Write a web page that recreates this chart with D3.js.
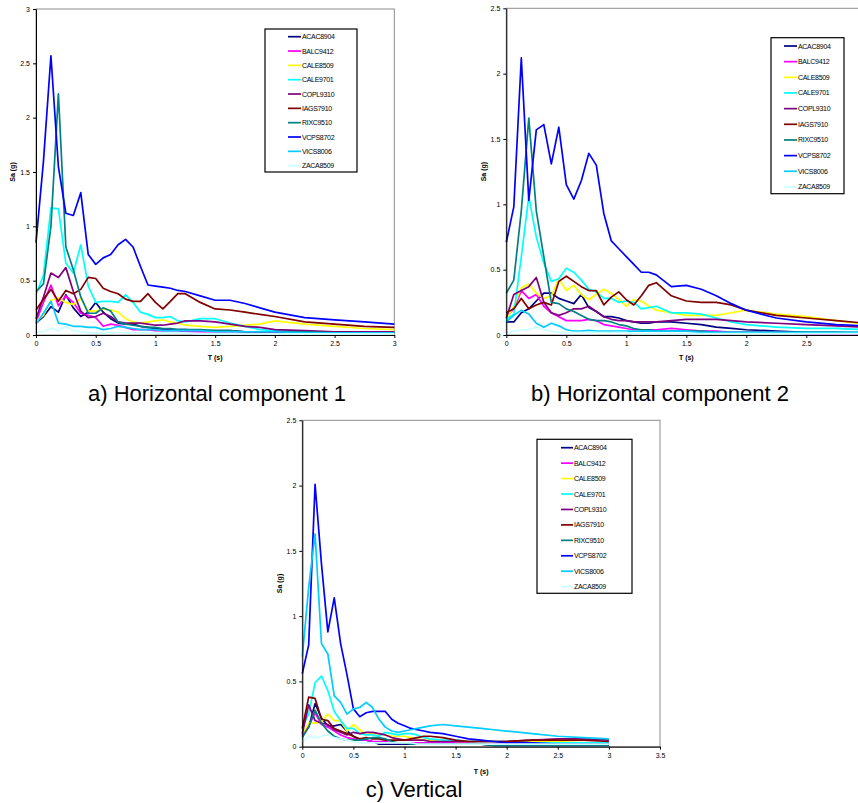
<!DOCTYPE html>
<html>
<head>
<meta charset="utf-8">
<script src="https://cdn.jsdelivr.net/npm/d3@7"></script>
<style>
  body { margin: 0; background: #fff; }
  text { font-family: "Liberation Sans", Arial, sans-serif; }
</style>
</head>
<body>
<div id="chart"></div>
<script>
// periods (s) shared by all spectra
var periods = [0, 0.0625, 0.125, 0.1875, 0.25, 0.3125, 0.375, 0.4375, 0.5, 0.5625, 0.625, 0.6875,
  0.75, 0.8125, 0.875, 0.9375, 1, 1.0625, 1.125, 1.1875, 1.25,
  1.375, 1.5, 1.625, 1.75, 1.875, 2, 2.25, 2.5, 2.75, 3];

var stations = ["ACAC8904", "BALC9412", "CALE8509", "CALE9701", "COPL9310",
  "IAGS7910", "RIXC9510", "VCPS8702", "VICS8006", "ZACA8509"];
var colors = ["#000080", "#ff00ff", "#ffff00", "#00ffff", "#800080",
  "#800000", "#008080", "#0000ff", "#00ccff", "#ccffff"];

// a) Horizontal component 1, Sa (g), one row per station
var h1Sa = [
  [0.11,0.17,0.26,0.21,0.37,0.25,0.17,0.21,0.30,0.21,0.15,0.11,0.10,0.10,0.08,0.07,0.06,0.05,0.05,0.05,0.05, 0.04,0.04,0.04,0.03,0.03,0.03,0.02,0.02,0.02,0.02],
  [0.12,0.30,0.46,0.27,0.36,0.30,0.20,0.18,0.16,0.08,0.10,0.09,0.07,0.05,0.05,0.05,0.04,0.04,0.04,0.04,0.03, 0.03,0.03,0.03,0.03,0.02,0.02,0.02,0.02,0.02,0.02],
  [0.12,0.18,0.32,0.34,0.30,0.28,0.34,0.22,0.22,0.24,0.23,0.21,0.15,0.12,0.11,0.12,0.13,0.14,0.12,0.11,0.09, 0.08,0.07,0.08,0.09,0.10,0.13,0.10,0.08,0.06,0.05],
  [0.37,0.55,1.17,1.16,0.66,0.57,0.83,0.45,0.30,0.31,0.31,0.30,0.37,0.30,0.21,0.19,0.16,0.16,0.17,0.13,0.12, 0.15,0.15,0.11,0.08,0.05,0.04,0.03,0.03,0.03,0.03],
  [0.15,0.35,0.57,0.53,0.62,0.40,0.22,0.16,0.17,0.20,0.17,0.12,0.11,0.11,0.11,0.10,0.09,0.09,0.10,0.11,0.13, 0.13,0.12,0.10,0.08,0.07,0.05,0.04,0.03,0.03,0.03],
  [0.23,0.33,0.42,0.31,0.41,0.38,0.42,0.53,0.52,0.43,0.40,0.38,0.33,0.31,0.31,0.38,0.30,0.24,0.31,0.38,0.38, 0.30,0.24,0.23,0.21,0.19,0.17,0.12,0.10,0.08,0.07],
  [0.40,0.47,1.00,2.22,0.81,0.60,0.35,0.20,0.20,0.25,0.22,0.12,0.10,0.09,0.08,0.07,0.07,0.06,0.06,0.05,0.05, 0.05,0.04,0.04,0.03,0.03,0.03,0.03,0.02,0.02,0.02],
  [0.85,1.60,2.57,1.55,1.12,1.10,1.31,0.74,0.65,0.71,0.74,0.83,0.88,0.81,0.63,0.46,0.45,0.44,0.43,0.41,0.40, 0.36,0.32,0.32,0.29,0.25,0.21,0.16,0.14,0.12,0.10],
  [0.10,0.20,0.31,0.11,0.10,0.08,0.08,0.07,0.07,0.05,0.06,0.08,0.07,0.06,0.05,0.05,0.05,0.04,0.04,0.04,0.04, 0.04,0.03,0.03,0.03,0.03,0.03,0.02,0.02,0.02,0.02],
  [0.02,0.03,0.06,0.04,0.08,0.04,0.03,0.02,0.02,0.02,0.02,0.02,0.02,0.02,0.02,0.02,0.02,0.02,0.02,0.02,0.02, 0.01,0.01,0.01,0.01,0.01,0.01,0.01,0.01,0.01,0.01]
];

// b) Horizontal component 2
var h2Sa = [
  [0.10,0.10,0.17,0.20,0.26,0.32,0.32,0.28,0.26,0.24,0.31,0.21,0.18,0.14,0.14,0.13,0.11,0.10,0.09,0.09,0.10, 0.10,0.09,0.08,0.06,0.05,0.04,0.03,0.02,0.02,0.01],
  [0.14,0.20,0.34,0.28,0.31,0.22,0.17,0.14,0.11,0.11,0.11,0.12,0.11,0.08,0.07,0.06,0.05,0.04,0.04,0.04,0.04, 0.05,0.04,0.03,0.03,0.02,0.02,0.02,0.01,0.01,0.01],
  [0.12,0.22,0.36,0.39,0.32,0.28,0.30,0.43,0.34,0.38,0.31,0.27,0.31,0.35,0.32,0.27,0.22,0.27,0.26,0.22,0.19, 0.17,0.15,0.15,0.15,0.17,0.19,0.16,0.14,0.11,0.08],
  [0.12,0.16,0.60,1.06,0.75,0.55,0.41,0.43,0.51,0.48,0.42,0.35,0.33,0.28,0.28,0.25,0.26,0.25,0.20,0.21,0.22, 0.17,0.17,0.16,0.13,0.10,0.08,0.06,0.05,0.05,0.04],
  [0.13,0.31,0.34,0.37,0.44,0.25,0.17,0.15,0.17,0.20,0.20,0.22,0.18,0.14,0.12,0.11,0.11,0.10,0.10,0.10,0.10, 0.11,0.12,0.12,0.12,0.11,0.10,0.09,0.08,0.07,0.06],
  [0.17,0.20,0.28,0.20,0.23,0.25,0.23,0.41,0.45,0.41,0.37,0.34,0.34,0.23,0.29,0.33,0.27,0.23,0.30,0.38,0.40, 0.30,0.26,0.25,0.25,0.23,0.19,0.15,0.13,0.11,0.09],
  [0.32,0.42,0.95,1.66,0.95,0.60,0.25,0.24,0.20,0.18,0.15,0.12,0.11,0.11,0.10,0.08,0.07,0.05,0.04,0.04,0.03, 0.03,0.03,0.03,0.02,0.02,0.02,0.02,0.02,0.02,0.02],
  [0.71,0.98,2.12,1.03,1.57,1.61,1.31,1.59,1.15,1.04,1.18,1.39,1.30,0.93,0.72,0.66,0.60,0.54,0.48,0.48,0.46, 0.37,0.38,0.35,0.30,0.24,0.19,0.13,0.10,0.08,0.07],
  [0.10,0.15,0.19,0.16,0.09,0.06,0.09,0.07,0.04,0.03,0.03,0.035,0.03,0.03,0.03,0.03,0.03,0.03,0.03,0.03,0.03, 0.03,0.03,0.02,0.02,0.02,0.02,0.02,0.02,0.02,0.02],
  [0.01,0.03,0.04,0.04,0.06,0.04,0.03,0.02,0.02,0.02,0.02,0.02,0.02,0.02,0.02,0.02,0.02,0.01,0.01,0.01,0.01, 0.01,0.01,0.01,0.01,0.01,0.01,0.01,0.01,0.01,0.01]
];

// c) Vertical
var vSa = [
  [0.09,0.15,0.33,0.22,0.16,0.16,0.17,0.12,0.08,0.05,0.05,0.04,0.02,0.02,0.02,0.02,0.02,0.02,0.02,0.02,0.02, 0.02,0.02,0.02,0.02,0.01,0.01,0.01,0.01,0.01,0.01],
  [0.08,0.16,0.26,0.17,0.15,0.12,0.09,0.07,0.06,0.05,0.05,0.04,0.04,0.04,0.03,0.03,0.03,0.03,0.03,0.03,0.03, 0.03,0.03,0.03,0.02,0.02,0.02,0.02,0.02,0.02,0.02],
  [0.10,0.18,0.18,0.19,0.25,0.20,0.20,0.12,0.17,0.13,0.09,0.10,0.10,0.09,0.08,0.08,0.08,0.07,0.06,0.05,0.05, 0.05,0.04,0.04,0.04,0.04,0.04,0.04,0.04,0.03,0.03],
  [0.15,0.25,0.49,0.54,0.43,0.27,0.20,0.14,0.14,0.10,0.09,0.09,0.08,0.11,0.10,0.09,0.10,0.10,0.09,0.07,0.06, 0.05,0.05,0.04,0.04,0.04,0.04,0.03,0.03,0.03,0.03],
  [0.10,0.32,0.20,0.18,0.17,0.13,0.11,0.09,0.11,0.10,0.11,0.11,0.10,0.09,0.07,0.06,0.05,0.05,0.05,0.05,0.04, 0.04,0.04,0.04,0.04,0.04,0.04,0.05,0.06,0.06,0.05],
  [0.14,0.38,0.37,0.21,0.20,0.14,0.12,0.10,0.08,0.06,0.07,0.06,0.06,0.05,0.05,0.05,0.05,0.06,0.07,0.08,0.08, 0.07,0.05,0.04,0.04,0.04,0.04,0.05,0.05,0.05,0.04],
  [0.07,0.15,0.28,0.18,0.12,0.08,0.06,0.05,0.05,0.05,0.06,0.07,0.07,0.06,0.04,0.03,0.03,0.02,0.02,0.02,0.02, 0.02,0.02,0.02,0.02,0.01,0.01,0.01,0.01,0.01,0.01],
  [0.56,0.78,2.01,1.40,0.88,1.14,0.79,0.55,0.29,0.23,0.26,0.27,0.27,0.27,0.21,0.18,0.16,0.14,0.13,0.12,0.11, 0.10,0.08,0.06,0.05,0.04,0.03,0.03,0.02,0.02,0.02],
  [0.69,1.22,1.63,0.79,0.71,0.39,0.34,0.25,0.29,0.30,0.34,0.30,0.21,0.15,0.12,0.11,0.12,0.13,0.14,0.15,0.16, 0.17,0.16,0.15,0.14,0.13,0.12,0.10,0.08,0.07,0.06],
  [0.04,0.08,0.07,0.08,0.09,0.07,0.06,0.05,0.04,0.03,0.03,0.03,0.03,0.03,0.03,0.03,0.03,0.03,0.02,0.02,0.02, 0.02,0.02,0.02,0.02,0.02,0.02,0.02,0.02,0.02,0.02]
];

var xTicks3 = [0, 0.5, 1, 1.5, 2, 2.5, 3];
var xTicksB = [0, 0.5, 1, 1.5, 2, 2.5];   // the "3" of panel b falls off the page
var xTicks35 = [0, 0.5, 1, 1.5, 2, 2.5, 3, 3.5];
var yTicks3 = [0, 0.5, 1, 1.5, 2, 2.5, 3];
var yTicks25 = [0, 0.5, 1, 1.5, 2, 2.5];
var captions = ["a) Horizontal component 1", "b) Horizontal component 2", "c) Vertical"];

var svg = d3.select("#chart")
  .append("svg")
  .attr("width", 858)
  .attr("height", 803);

// layout of the three panels (pixels)
var panels = [
  {data: h1Sa, left: 36, right: 394.3, top: 9, bottom: 335, xMax: 3, yMax: 3, xTicks: xTicks3, yTicks: yTicks3,
   leg: {x: 265, y: 29, w: 92, h: 143, first: 7.7, step: 14.33, l1: 288, l2: 301},
   yLabX: 15, xLabY: 360, capX: 217, capY: 401},
  {data: h2Sa, left: 506.3, right: 866.3, top: 8.3, bottom: 335, xMax: 3, yMax: 2.5, xTicks: xTicksB, yTicks: yTicks25,
   leg: {x: 771, y: 37.7, w: 73, h: 156, first: 8.3, step: 15.66, l1: 784, l2: 797},
   yLabX: 486, xLabY: 360, capX: 660, capY: 401},
  {data: vSa, left: 302.3, right: 660, top: 420.3, bottom: 746.7, xMax: 3.5, yMax: 2.5, xTicks: xTicks35, yTicks: yTicks25,
   leg: {x: 537, y: 439.3, w: 95, h: 154, first: 8.4, step: 15.44, l1: 561, l2: 573},
   yLabX: 282, xLabY: 774, capX: 414, capY: 797}
];

panels.forEach(function(p, k) {
  var x = d3.scaleLinear().domain([0, p.xMax]).range([p.left, p.right]);
  var y = d3.scaleLinear().domain([0, p.yMax]).range([p.bottom, p.top]);

  // plot area frame
  svg.append("rect")
    .attr("x", p.left).attr("y", p.top)
    .attr("width", p.right - p.left).attr("height", p.bottom - p.top)
    .attr("fill", "none").attr("stroke", "#8c8c8c").attr("stroke-width", 1);

  var g = svg.append("g");
  g.selectAll("path.sa")
    .data(p.data)
    .enter()
    .append("path")
    .attr("class", "sa")
    .attr("fill", "none")
    .attr("stroke", (d, i) => colors[i])
    .attr("stroke-width", 1.7)
    .attr("stroke-linejoin", "round")
    .attr("d", d3.line().x((v, j) => x(periods[j])).y(v => y(v)));

  // axes
  var bottomAxis = d3.axisBottom(x).tickValues(p.xTicks).tickFormat(d => String(d))
    .tickSize(3).tickSizeOuter(0).tickPadding(3);
  var leftAxis = d3.axisLeft(y).tickValues(p.yTicks).tickFormat(d => String(d))
    .tickSize(3).tickSizeOuter(0).tickPadding(3);

  var ax = svg.append("g").attr("transform", `translate(0, ${p.bottom})`).call(bottomAxis);
  var ay = svg.append("g").attr("transform", `translate(${p.left}, 0)`).call(leftAxis);
  [ax, ay].forEach(function(a) {
    a.selectAll("path").attr("stroke", "#000");
    a.selectAll("line").attr("stroke", "#000");
    a.selectAll("text").attr("font-size", 7).attr("fill", "#000")
      .attr("font-family", "'Liberation Sans', Arial, sans-serif");
  });

  // axis titles
  svg.append("text")
    .attr("transform", `translate(${p.yLabX}, ${(p.top + p.bottom) / 2}) rotate(-90)`)
    .attr("text-anchor", "middle")
    .attr("font-size", 7).attr("font-weight", "bold")
    .text("Sa (g)");
  svg.append("text")
    .attr("x", (p.left + Math.min(p.right, 866.3)) / 2).attr("y", p.xLabY)
    .attr("text-anchor", "middle")
    .attr("font-size", 7).attr("font-weight", "bold")
    .text("T (s)");

  // legend
  var L = p.leg;
  svg.append("rect")
    .attr("x", L.x).attr("y", L.y).attr("width", L.w).attr("height", L.h)
    .attr("fill", "#fff").attr("stroke", "#000").attr("stroke-width", 1.2);
  var items = svg.selectAll(null).data(stations).enter().append("g");
  items.append("line")
    .attr("x1", L.l1).attr("x2", L.l2)
    .attr("y1", (d, i) => L.y + L.first + i * L.step)
    .attr("y2", (d, i) => L.y + L.first + i * L.step)
    .attr("stroke", (d, i) => colors[i]).attr("stroke-width", 1.7);
  items.append("text")
    .attr("x", L.l2 + 1)
    .attr("y", (d, i) => L.y + L.first + i * L.step + 2.5)
    .attr("font-size", 7).attr("letter-spacing", -0.3)
    .text(d => d);

  // caption
  svg.append("text")
    .attr("x", p.capX).attr("y", p.capY)
    .attr("text-anchor", "middle")
    .attr("font-size", 22)
    .text(captions[k]);
});
</script>
</body>
</html>
